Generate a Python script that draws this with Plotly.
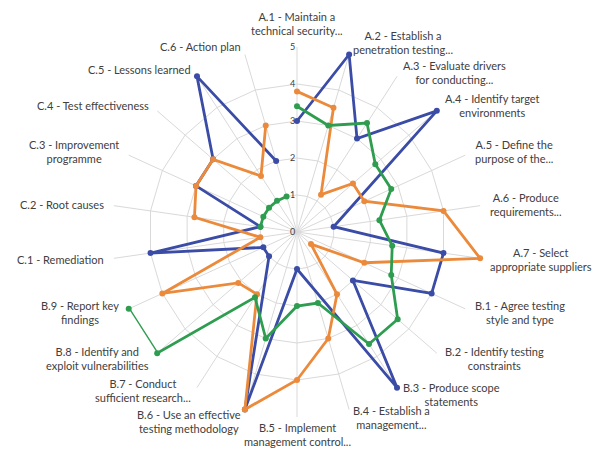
import math
import plotly.graph_objects as go

# Assessment criteria shown around the radar (labels as displayed, truncated)
categories = [
    "A.1 - Maintain a<br>technical security...",
    "A.2 - Establish a<br>penetration testing...",
    "A.3 - Evaluate drivers<br>for conducting...",
    "A.4 - Identify target<br>environments",
    "A.5 - Define the<br>purpose of the...",
    "A.6 - Produce<br>requirements...",
    "A.7 - Select<br>appropriate suppliers",
    "B.1 - Agree testing<br>style and type",
    "B.2 - Identify testing<br>constraints",
    "B.3 - Produce scope<br>statements",
    "B.4 - Establish a<br>management...",
    "B.5 - Implement<br>management control...",
    "B.6 - Use an effective<br>testing methodology",
    "B.7 - Conduct<br>sufficient research...",
    "B.8 - Identify and<br>exploit vulnerabilities",
    "B.9 - Report key<br>findings",
    "C.1 - Remediation",
    "C.2 - Root causes",
    "C.3 - Improvement<br>programme",
    "C.4 - Test effectiveness",
    "C.5 - Lessons learned",
    "C.6 - Action plan",
]

# Scores per criterion (None = no score, line joins across it)
blue_scores = [3, 5, 3, 5, None, 1, 4, 4, 2, 5, None, 1, 5, None, 1, 1, 4, 1, 3, 3, 5, 2]
orange_scores = [3.8, 3.5, 1.2, 2, 2, 4, 5, 2, 0.5, 2, 3, 4, 5, 2, 2.1, 4, 1, 2.8, 3, 3, 1.8, 3]
green_scores = [3.4, 3, 3.5, 2.8, 2.8, 2.25, 2.6, 2.8, 3.6, 3.6, 2, 2, 3, 2.1, 5, 5, None, 1, 1, 1, 1, 1]

radial_ticks = [0, 1, 2, 3, 4, 5]

series = [
    ("blue", blue_scores, "#3a4ca6", True),
    ("orange", orange_scores, "#ec8a3c", False),
    ("green", green_scores, "#2f9d4f", False),
]

W, H = 606, 452
# polar plot area (pixels): centre and outer radius
CX, CY, R = 297, 232, 185
LABEL_GAP = 8
# small vertical nudges (px) so neighbouring labels do not collide
LABEL_NUDGE = {1: -4, 2: 3, 12: 4, 13: -4}

fig = go.Figure()
for name, vals, color, bridge in series:
    fig.add_trace(go.Scatterpolar(
        r=vals,
        theta=categories,
        mode="lines+markers",
        name=name,
        connectgaps=bridge,
        line=dict(color=color, width=2.8),
        marker=dict(color=color, size=6),
        showlegend=False,
    ))

# Category labels placed just outside each spoke, centred lines like Excel
annotations = []
n = len(categories)
for i, label in enumerate(categories):
    theta = 2 * math.pi * i / n
    s, c = math.sin(theta), math.cos(theta)
    gap = LABEL_GAP
    if abs(s) < 0.1:
        xanchor = "center"
        if c > 0:
            yanchor = "bottom"
        else:
            yanchor = "top"
            gap = 2  # keep the bottom label inside the page
    else:
        xanchor = "left" if s > 0 else "right"
        yanchor = "middle"
    px = CX + (R + gap) * s
    py = CY - (R + gap) * c + LABEL_NUDGE.get(i, 0)
    annotations.append(dict(
        x=px / W, y=1 - py / H, xref="paper", yref="paper",
        text=label, showarrow=False, align="center",
        xanchor=xanchor, yanchor=yanchor,
        font=dict(size=11, color="#404040"),
    ))

fig.update_layout(
    width=W,
    height=H,
    margin=dict(l=0, r=0, t=0, b=0),
    paper_bgcolor="white",
    plot_bgcolor="white",
    font=dict(family="Lato, Liberation Sans, sans-serif", size=11, color="#404040"),
    annotations=annotations,
    polar=dict(
        domain=dict(x=[(CX - R) / W, (CX + R) / W], y=[1 - (CY + R) / H, 1 - (CY - R) / H]),
        bgcolor="white",
        gridshape="linear",
        angularaxis=dict(
            direction="clockwise",
            rotation=90,
            type="category",
            showline=False,
            gridcolor="#d9d9d9",
            gridwidth=1,
            ticks="",
            showticklabels=False,
        ),
        radialaxis=dict(
            range=[0, 5],
            tickvals=radial_ticks,
            angle=90,
            tickangle=90,
            side="counterclockwise",
            showline=False,
            gridcolor="#d9d9d9",
            gridwidth=1,
            ticks="",
            tickfont=dict(size=9, color="#404040"),
        ),
    ),
)

fig.write_html("out.html")
